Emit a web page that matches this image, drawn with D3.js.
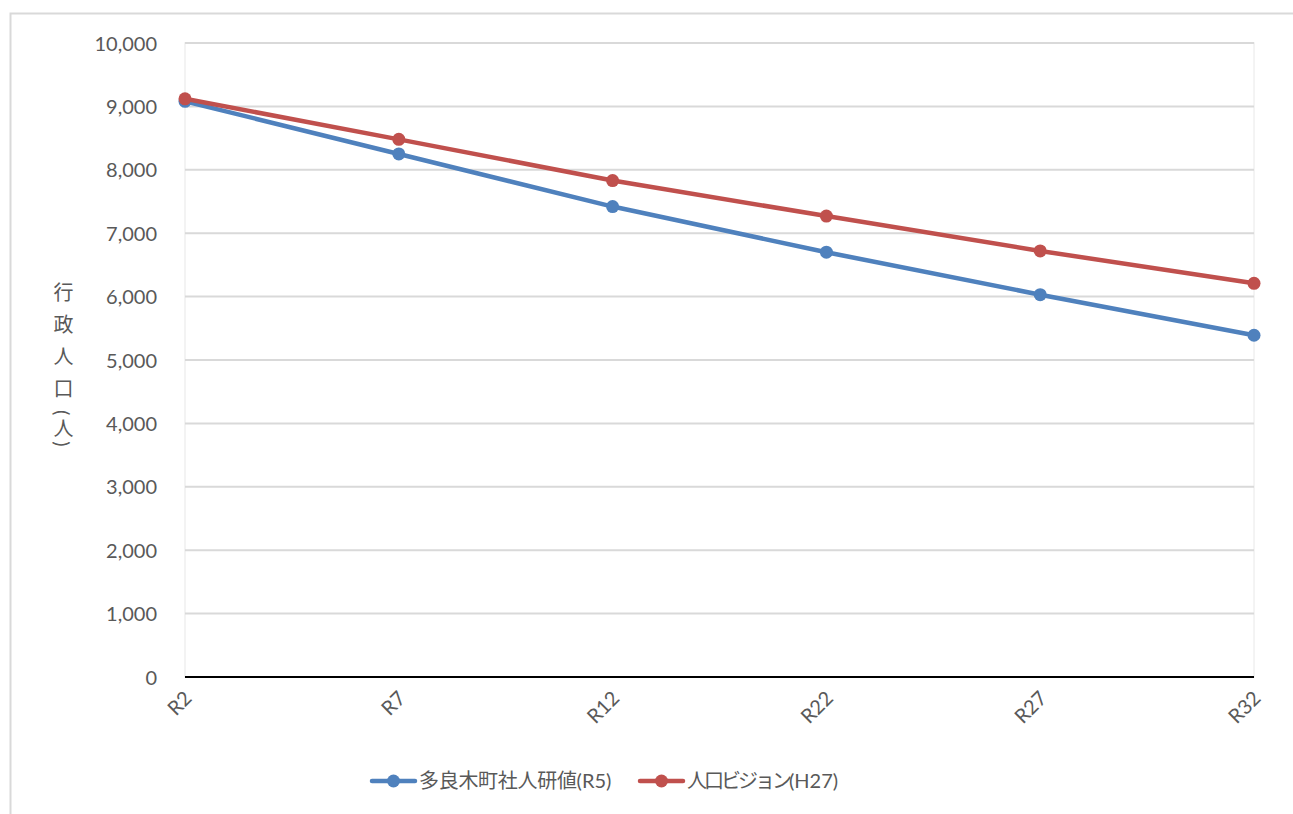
<!DOCTYPE html>
<html>
<head>
<meta charset="utf-8">
<script src="https://cdn.jsdelivr.net/npm/d3@7"></script>
<style>
  html, body { margin: 0; padding: 0; background: #fff; }
  svg { display: block; }
  text { font-family: Lato, "Noto Sans CJK JP", sans-serif; fill: #595959; }
</style>
</head>
<body>
<svg id="chart" width="1293" height="814"></svg>
<script>
// Projection periods
const categories = ["R2", "R7", "R12", "R22", "R27", "R32"];
// 多良木町社人研値(R5)
const seriesA = [9080, 8250, 7420, 6700, 6030, 5390];
// 人口ビジョン(H27)
const seriesB = [9120, 8480, 7830, 7270, 6720, 6210];
const seriesNames = ["多良木町社人研値(R5)", "人口ビジョン(H27)"];
const yTicks = [0, 1000, 2000, 3000, 4000, 5000, 6000, 7000, 8000, 9000, 10000];

const colors = ["#4F81BD", "#C0504D"];
const svg = d3.select("#chart");

// chart frame
svg.append("rect")
  .attr("x", 10.5).attr("y", 13.5)
  .attr("width", 1300).attr("height", 820)
  .attr("fill", "none").attr("stroke", "#d9d9d9").attr("stroke-width", 2);

const plot = { left: 185, right: 1254, top: 43, bottom: 677 };

const x = d3.scalePoint().domain(categories).range([plot.left, plot.right]);
const y = d3.scaleLinear().domain([0, 10000]).range([plot.bottom, plot.top]);

// plot area edges
svg.append("rect")
  .attr("x", plot.left).attr("y", plot.top)
  .attr("width", plot.right - plot.left).attr("height", plot.bottom - plot.top)
  .attr("fill", "none").attr("stroke", "#f0f0f0").attr("stroke-width", 1.5);

// gridlines
svg.append("g").selectAll("line")
  .data(yTicks.filter(d => d > 0))
  .join("line")
  .attr("x1", plot.left).attr("x2", plot.right)
  .attr("y1", d => y(d)).attr("y2", d => y(d))
  .attr("stroke", "#d9d9d9").attr("stroke-width", 2);

// y axis labels
const yAxis = svg.append("g")
  .attr("transform", `translate(${plot.left},0)`)
  .call(d3.axisLeft(y).tickValues(yTicks).tickFormat(d3.format(",")).tickSize(0).tickPadding(28));
yAxis.select(".domain").remove();
yAxis.selectAll("text")
  .style("font-size", "20px").attr("fill", "#595959").attr("dy", "0.35em");

// x axis baseline
svg.append("line")
  .attr("x1", plot.left).attr("x2", plot.right)
  .attr("y1", y(0)).attr("y2", y(0))
  .attr("stroke", "#000").attr("stroke-width", 2.2);

// x axis labels rotated
const xAxis = svg.append("g")
  .attr("transform", `translate(0,${plot.bottom})`)
  .call(d3.axisBottom(x).tickSize(0).tickPadding(0));
xAxis.select(".domain").remove();
xAxis.selectAll("text")
  .style("font-size", "20px").attr("fill", "#595959")
  .attr("text-anchor", "end")
  .attr("dy", null).attr("y", 0)
  .attr("transform", "translate(4,19) rotate(-45)")
  .attr("dominant-baseline", "middle");

// y axis title (vertical, parentheses set tighter)
const yTitle = svg.append("text")
  .attr("x", 63).attr("y", 282)
  .style("writing-mode", "vertical-rl")
  .style("text-orientation", "mixed")
  .style("font-size", "20px")
  .attr("fill", "#595959");
yTitle.append("tspan").style("letter-spacing", "12px").text("行政人口");
yTitle.append("tspan").style("letter-spacing", "3px").text("(人)");

// series lines and markers
const seriesData = [seriesA, seriesB];
const line = d3.line().x((d, i) => x(categories[i])).y(d => y(d));

seriesData.forEach((vals, s) => {
  const g = svg.append("g");
  g.append("path")
    .attr("d", line(vals))
    .attr("fill", "none").attr("stroke", colors[s])
    .attr("stroke-width", 4.5).attr("stroke-linejoin", "round").attr("stroke-linecap", "round");
  g.selectAll("circle")
    .data(vals)
    .join("circle")
    .attr("cx", (d, i) => x(categories[i]))
    .attr("cy", d => y(d))
    .attr("r", 6.5)
    .attr("fill", colors[s]);
});

// legend: kana/kanji part set slightly tighter than the bracketed code
const legendItems = [
  { x: 372, name: seriesNames[0], color: colors[0], spacing: -0.3 },
  { x: 640, name: seriesNames[1], color: colors[1], spacing: -3 }
];
const ly = 781;
legendItems.forEach(item => {
  const g = svg.append("g");
  g.append("line")
    .attr("x1", item.x).attr("x2", item.x + 43)
    .attr("y1", ly).attr("y2", ly)
    .attr("stroke", item.color).attr("stroke-width", 4.5).attr("stroke-linecap", "round");
  g.append("circle")
    .attr("cx", item.x + 21.5).attr("cy", ly).attr("r", 6.5)
    .attr("fill", item.color);
  const split = item.name.indexOf("(");
  const t = g.append("text")
    .attr("x", item.x + 47).attr("y", ly)
    .attr("dy", "0.35em")
    .style("font-size", "20px")
    .attr("fill", "#595959");
  t.append("tspan").style("letter-spacing", item.spacing + "px").text(item.name.slice(0, split));
  t.append("tspan").style("letter-spacing", "0px").text(item.name.slice(split));
});
</script>
</body>
</html>
